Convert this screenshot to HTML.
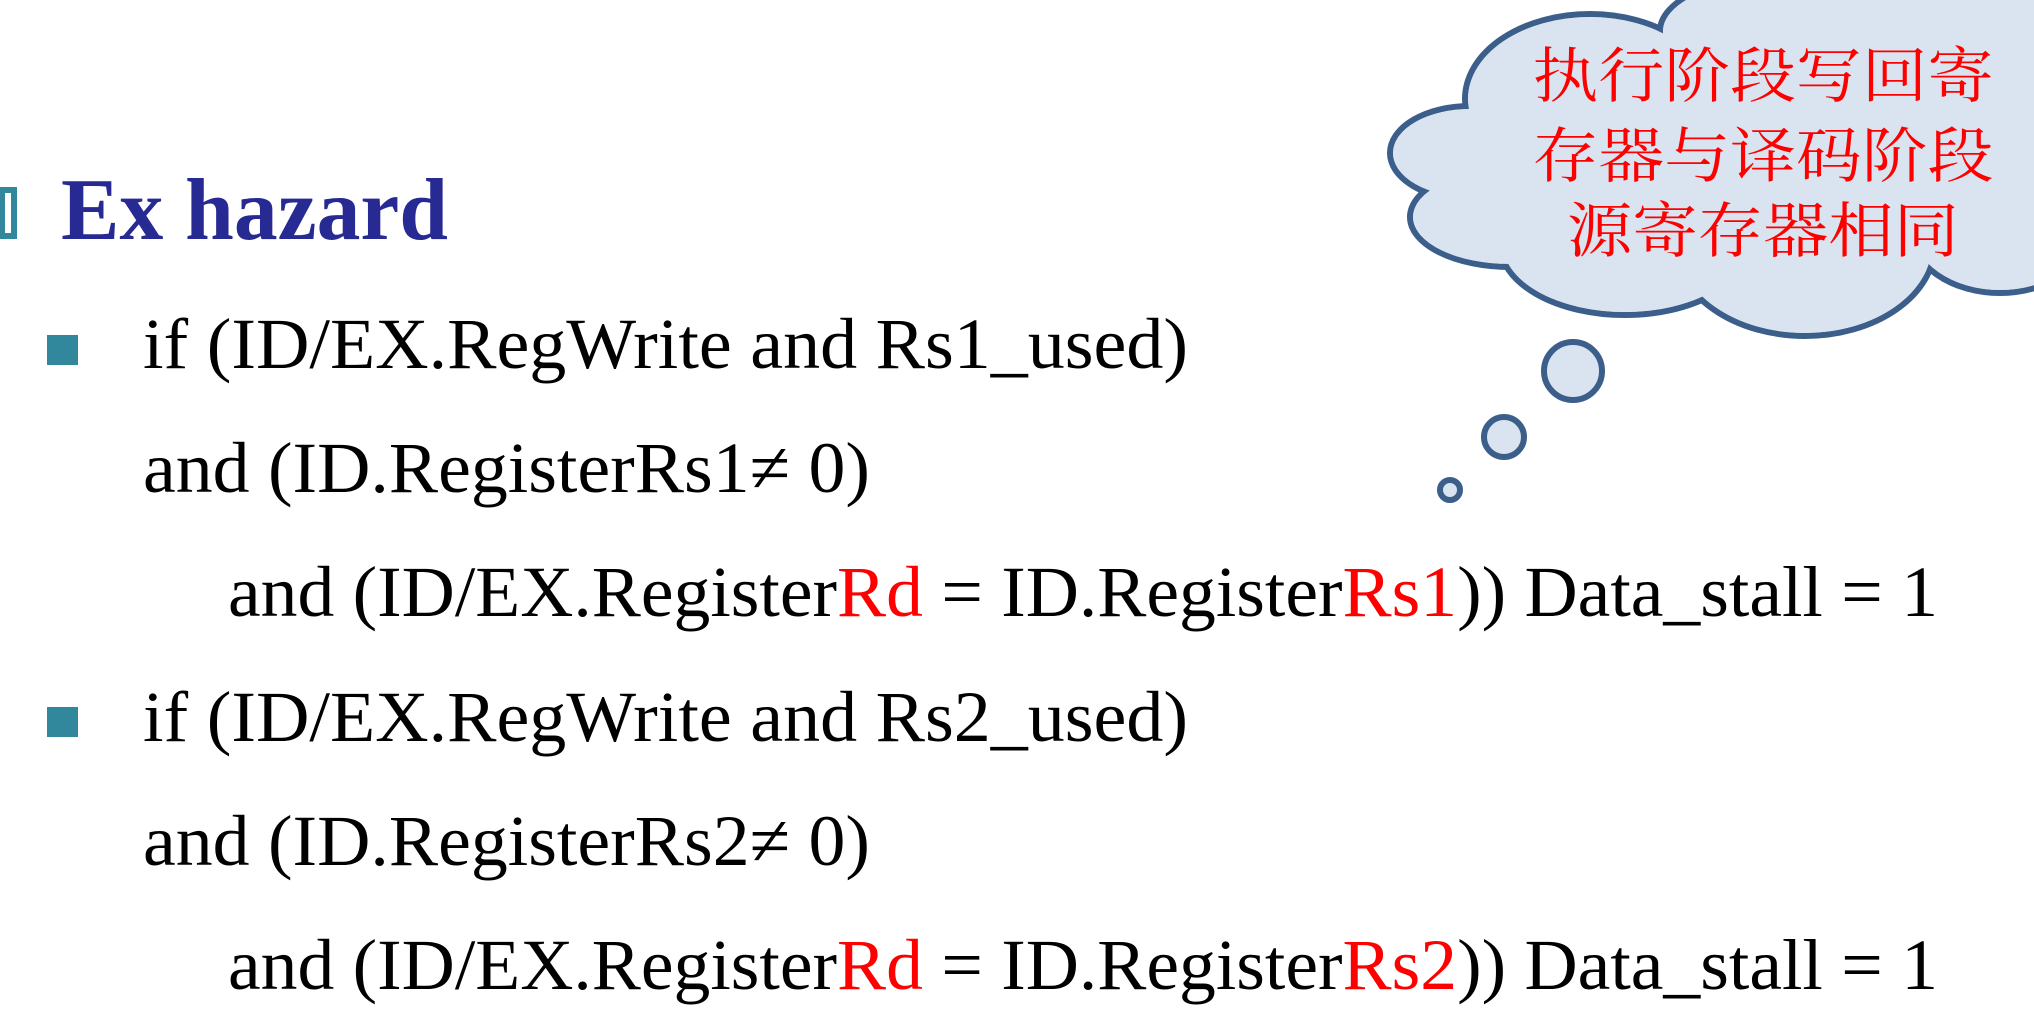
<!DOCTYPE html>
<html><head><meta charset="utf-8"><style>
html,body{margin:0;padding:0;background:#fff;}
svg{display:block}
</style></head><body>
<svg width="2034" height="1032" viewBox="0 0 2034 1032" xmlns="http://www.w3.org/2000/svg">
<g stroke="#3b5e8a" stroke-width="6" fill="#dae4f0">
<ellipse cx="1590" cy="99" rx="125" ry="85"/>
<ellipse cx="1470" cy="153" rx="80" ry="47"/>
<ellipse cx="1510" cy="217" rx="100" ry="50"/>
<ellipse cx="1625" cy="244" rx="125" ry="71"/>
<ellipse cx="1805" cy="244" rx="130" ry="92"/>
<ellipse cx="2000" cy="229" rx="90" ry="64"/>
<ellipse cx="2080" cy="130" rx="90" ry="99"/>
<ellipse cx="1790" cy="31" rx="130" ry="57"/>
<ellipse cx="1960" cy="15" rx="110" ry="50"/>
</g>
<g fill="#dae4f0">
<ellipse cx="1590" cy="99" rx="122" ry="82"/>
<ellipse cx="1470" cy="153" rx="77" ry="44"/>
<ellipse cx="1510" cy="217" rx="97" ry="47"/>
<ellipse cx="1625" cy="244" rx="122" ry="68"/>
<ellipse cx="1805" cy="244" rx="127" ry="89"/>
<ellipse cx="2000" cy="229" rx="87" ry="61"/>
<ellipse cx="2080" cy="130" rx="87" ry="96"/>
<ellipse cx="1790" cy="31" rx="127" ry="54"/>
<ellipse cx="1960" cy="15" rx="107" ry="47"/>
<rect x="1560" y="46" width="474" height="198"/>
</g>
<g stroke="#3b5e8a" stroke-width="6" fill="#dae4f0">
<circle cx="1573" cy="371" r="29"/>
<circle cx="1504" cy="437" r="20"/>
<circle cx="1450" cy="490" r="10"/>
</g>
<g fill="#ff0000" font-family="'Noto Serif CJK SC','Noto Sans CJK SC',serif" font-size="60" text-anchor="middle">
<text x="1763" y="97" textLength="461" lengthAdjust="spacingAndGlyphs">执行阶段写回寄</text>
<text x="1763" y="177" textLength="461" lengthAdjust="spacingAndGlyphs">存器与译码阶段</text>
<text x="1763" y="252" textLength="392" lengthAdjust="spacingAndGlyphs">源寄存器相同</text>
</g>
<rect x="2" y="190" width="12" height="46" fill="none" stroke="#31879c" stroke-width="6"/>
<text x="61" y="239" font-family="'Liberation Serif',serif" font-weight="bold" font-size="88" fill="#262a92" textLength="387" lengthAdjust="spacingAndGlyphs">Ex hazard</text>
<rect x="47" y="335" width="31" height="30" fill="#31879c"/>
<rect x="47" y="707" width="31" height="30" fill="#31879c"/>
<g font-family="'Liberation Serif',serif" font-size="72" fill="#000">
<text x="143" y="368" textLength="1045" lengthAdjust="spacingAndGlyphs">if (ID/EX.RegWrite and Rs1_used)</text>
<text x="143" y="492" textLength="727" lengthAdjust="spacingAndGlyphs">and (ID.RegisterRs1≠ 0)</text>
<text x="228" y="616" textLength="1710" lengthAdjust="spacingAndGlyphs">and (ID/EX.Register<tspan fill="#ff0000">Rd</tspan> = ID.Register<tspan fill="#ff0000">Rs1</tspan>)) Data_stall = 1</text>
<text x="143" y="741" textLength="1045" lengthAdjust="spacingAndGlyphs">if (ID/EX.RegWrite and Rs2_used)</text>
<text x="143" y="865" textLength="727" lengthAdjust="spacingAndGlyphs">and (ID.RegisterRs2≠ 0)</text>
<text x="228" y="989" textLength="1710" lengthAdjust="spacingAndGlyphs">and (ID/EX.Register<tspan fill="#ff0000">Rd</tspan> = ID.Register<tspan fill="#ff0000">Rs2</tspan>)) Data_stall = 1</text>
</g>
</svg>
</body></html>
